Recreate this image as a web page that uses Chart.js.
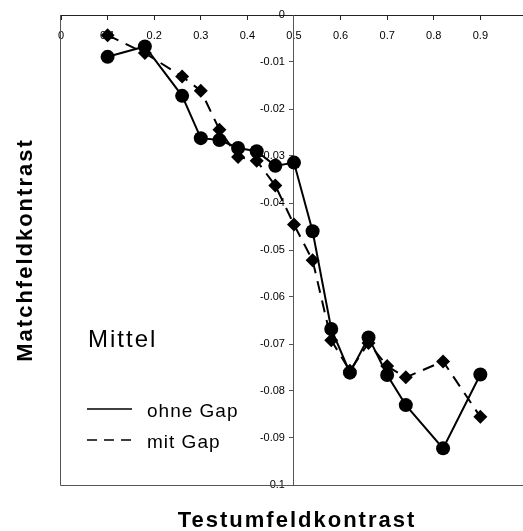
<!DOCTYPE html>
<html>
<head>
<meta charset="utf-8">
<title>Matchfeldkontrast – Mittel</title>
<script src="https://cdn.jsdelivr.net/npm/chart.js@4.4.1/dist/chart.umd.min.js"></script>
<style>
  html, body { margin: 0; padding: 0; background: #fff; overflow: hidden; }
  #wrap { width: 540px; height: 531px; }
</style>
</head>
<body>
<div id="wrap"><canvas id="chart" width="540" height="531"></canvas></div>
<script>
/* ============================================
   Data
   ============================================ */

// Testumfeldkontrast
const testContrast = [0.1, 0.18, 0.26, 0.3, 0.34, 0.38, 0.42, 0.46, 0.5, 0.54, 0.58, 0.62, 0.66, 0.7, 0.74, 0.82, 0.9];

// Matchfeldkontrast
const ohneGap = [-0.0089, -0.0067, -0.0172, -0.0262, -0.0266, -0.0283, -0.029, -0.0321, -0.0314, -0.046, -0.0668, -0.0761, -0.0686, -0.0766, -0.083, -0.0922, -0.0765];
const mitGap  = [-0.0043, -0.0081, -0.0131, -0.0161, -0.0244, -0.0302, -0.031, -0.0363, -0.0446, -0.0522, -0.0692, -0.0757, -0.0698, -0.0747, -0.0771, -0.0737, -0.0855];

// axis ranges / steps
const xRange = [0, 1];
const yRange = [-0.1, 0];
const xStep = 0.1;
const yStep = 0.01;

const seriesNames = ['ohne Gap', 'mit Gap'];

const FONT = 'Arial, "Liberation Sans", Helvetica, sans-serif';

function fmtTick(v) {
  const r = Math.round(v * 100) / 100;
  return r === 0 ? '0' : String(r);
}

// zero-size axes: they are drawn inside the plot, not beside it
function noSpace(scale) {
  if (scale.isHorizontal()) scale.height = 0;
  else scale.width = 0;
}

// ── Frame, legend and axis titles ──────────────────────
const annotations = {
  id: 'annotations',
  beforeDatasetsDraw(chart) {
    const ctx = chart.ctx, a = chart.chartArea;
    ctx.save();
    ctx.strokeStyle = '#555';
    ctx.lineWidth = 1;
    ctx.beginPath();
    ctx.moveTo(a.left - 0.5, a.top);
    ctx.lineTo(a.left - 0.5, a.bottom + 0.5);
    ctx.lineTo(a.right, a.bottom + 0.5);
    ctx.stroke();
    ctx.restore();
  },
  afterDraw(chart) {
    const ctx = chart.ctx;
    ctx.save();
    ctx.fillStyle = '#000';
    ctx.strokeStyle = '#000';

    // x title
    ctx.font = 'bold 22px ' + FONT;
    ctx.letterSpacing = '2px';
    ctx.textAlign = 'center';
    ctx.textBaseline = 'alphabetic';
    ctx.fillText('Testumfeldkontrast', 297, 527);

    // y title
    ctx.save();
    ctx.translate(32, 250);
    ctx.rotate(-Math.PI / 2);
    ctx.fillText('Matchfeldkontrast', 0, 0);
    ctx.restore();

    // "Mittel"
    ctx.textAlign = 'left';
    ctx.font = '24px ' + FONT;
    ctx.letterSpacing = '2px';
    ctx.fillText('Mittel', 88, 347);

    // legend
    ctx.font = '19px ' + FONT;
    ctx.letterSpacing = '1px';
    ctx.lineWidth = 1.5;
    const rows = [{ y: 409, dash: [] }, { y: 440, dash: [10, 7] }];
    rows.forEach((row, i) => {
      ctx.setLineDash(row.dash);
      ctx.beginPath();
      ctx.moveTo(87, row.y);
      ctx.lineTo(132, row.y);
      ctx.stroke();
      ctx.fillText(seriesNames[i], 147, row.y + 8);
    });
    ctx.restore();
  }
};

const ctx = document.getElementById('chart');

new Chart(ctx, {
  type: 'line',
  data: {
    datasets: [
      {
        label: seriesNames[0],
        data: testContrast.map((x, i) => ({ x, y: ohneGap[i] })),
        borderColor: '#000',
        backgroundColor: '#000',
        borderWidth: 2,
        pointStyle: 'circle',
        pointRadius: 7,
        pointBorderWidth: 0,
        pointBackgroundColor: '#000',
      },
      {
        label: seriesNames[1],
        data: testContrast.map((x, i) => ({ x, y: mitGap[i] })),
        borderColor: '#000',
        backgroundColor: '#000',
        borderWidth: 2,
        borderDash: [12, 8],
        pointStyle: 'rectRot',
        pointRadius: 7,
        pointBorderWidth: 0,
        pointBackgroundColor: '#000',
      }
    ]
  },
  options: {
    responsive: false,
    animation: false,
    devicePixelRatio: 1,
    layout: { padding: { left: 61, right: 7, top: 15, bottom: 46 } },
    plugins: {
      legend: { display: false },
      tooltip: { enabled: false },
      title: { display: false }
    },
    scales: {
      x: {
        type: 'linear',
        min: xRange[0], max: xRange[1],
        position: { y: 0 },
        afterFit: noSpace,
        grid: { drawOnChartArea: false, color: '#222', tickLength: 4 },
        border: { color: '#222', width: 1 },
        ticks: {
          stepSize: xStep,
          padding: 10,
          color: '#000',
          font: { family: FONT, size: 11 },
          maxRotation: 0,
          autoSkip: false,
          callback: fmtTick
        }
      },
      y: {
        type: 'linear',
        min: yRange[0], max: yRange[1],
        position: 'center',
        afterFit: noSpace,
        grid: { drawOnChartArea: false, color: '#555', tickLength: 4 },
        border: { color: '#555', width: 1 },
        ticks: {
          stepSize: yStep,
          padding: 5,
          color: '#000',
          font: { family: FONT, size: 11 },
          autoSkip: false,
          callback: fmtTick
        }
      }
    }
  },
  plugins: [annotations]
});
</script>
</body>
</html>
